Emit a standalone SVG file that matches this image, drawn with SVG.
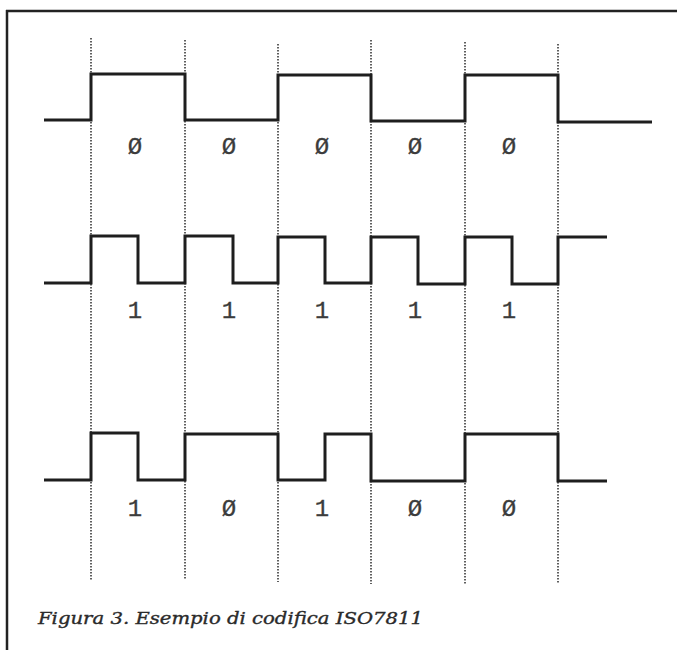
<svg xmlns="http://www.w3.org/2000/svg" width="677" height="650" viewBox="0 0 677 650">
<style>
.wave{fill:none;stroke:#1e1e1e;stroke-width:3;stroke-linejoin:miter}
.grid{stroke:#444;stroke-width:1.7;stroke-dasharray:1.6 1.4}
.lbl{font-family:"Liberation Mono","DejaVu Sans Mono",monospace;font-size:24px;fill:#3c3c3c;stroke:#3c3c3c;stroke-width:0.3;text-anchor:middle}
.cap{font-family:"DejaVu Serif","Liberation Serif",serif;font-style:italic;font-size:16.5px;fill:#2a2a2a;stroke:#2a2a2a;stroke-width:0.35}
</style>
<rect width="677" height="650" fill="#fff"/>
<g id="frame">
<line x1="6" y1="11" x2="677" y2="11" stroke="#222" stroke-width="2.5"/>
<line x1="7" y1="10" x2="7" y2="650" stroke="#222" stroke-width="2.5"/>
</g>
<g id="grid">
<line class="grid" x1="91" y1="38" x2="91" y2="580"/>
<line class="grid" x1="185" y1="40" x2="185" y2="580"/>
<line class="grid" x1="278" y1="44" x2="278" y2="582"/>
<line class="grid" x1="371" y1="40" x2="371" y2="584"/>
<line class="grid" x1="465" y1="42" x2="465" y2="584"/>
<line class="grid" x1="558" y1="44" x2="558" y2="584"/>
</g>
<g id="connectors">
<path id="wave-zeros" class="wave" d="M44 120 H91 V74 H185 V120 H278 V75 H371 V121 H465 V75 H558 V122 H652"/>
<path id="wave-ones" class="wave" d="M44 283 H91 V236 H138 V283 H185 V236 H233 V283 H278 V237 H325 V283 H371 V237 H418 V284 H465 V237 H512 V284 H558 V237 H607"/>
<path id="wave-mixed" class="wave" d="M44 480 H91 V433 H138 V480 H185 V434 H278 V480 H325 V434 H371 V481 H465 V434 H558 V481 H607"/>
</g>
<g id="labels-zeros">
<text class="lbl" x="135" y="154">Ø</text>
<text class="lbl" x="229" y="154">Ø</text>
<text class="lbl" x="322" y="154">Ø</text>
<text class="lbl" x="415" y="154">Ø</text>
<text class="lbl" x="509" y="154">Ø</text>
</g>
<g id="labels-ones">
<text class="lbl" x="135" y="318">1</text>
<text class="lbl" x="229" y="318">1</text>
<text class="lbl" x="322" y="318">1</text>
<text class="lbl" x="415" y="318">1</text>
<text class="lbl" x="509" y="318">1</text>
</g>
<g id="labels-mixed">
<text class="lbl" x="135" y="516">1</text>
<text class="lbl" x="229" y="516">Ø</text>
<text class="lbl" x="322" y="516">1</text>
<text class="lbl" x="415" y="516">Ø</text>
<text class="lbl" x="509" y="516">Ø</text>
</g>
<g id="caption">
<text class="cap" x="38" y="624" textLength="385" lengthAdjust="spacingAndGlyphs">Figura 3. Esempio di codifica ISO7811</text>
</g>
</svg>
